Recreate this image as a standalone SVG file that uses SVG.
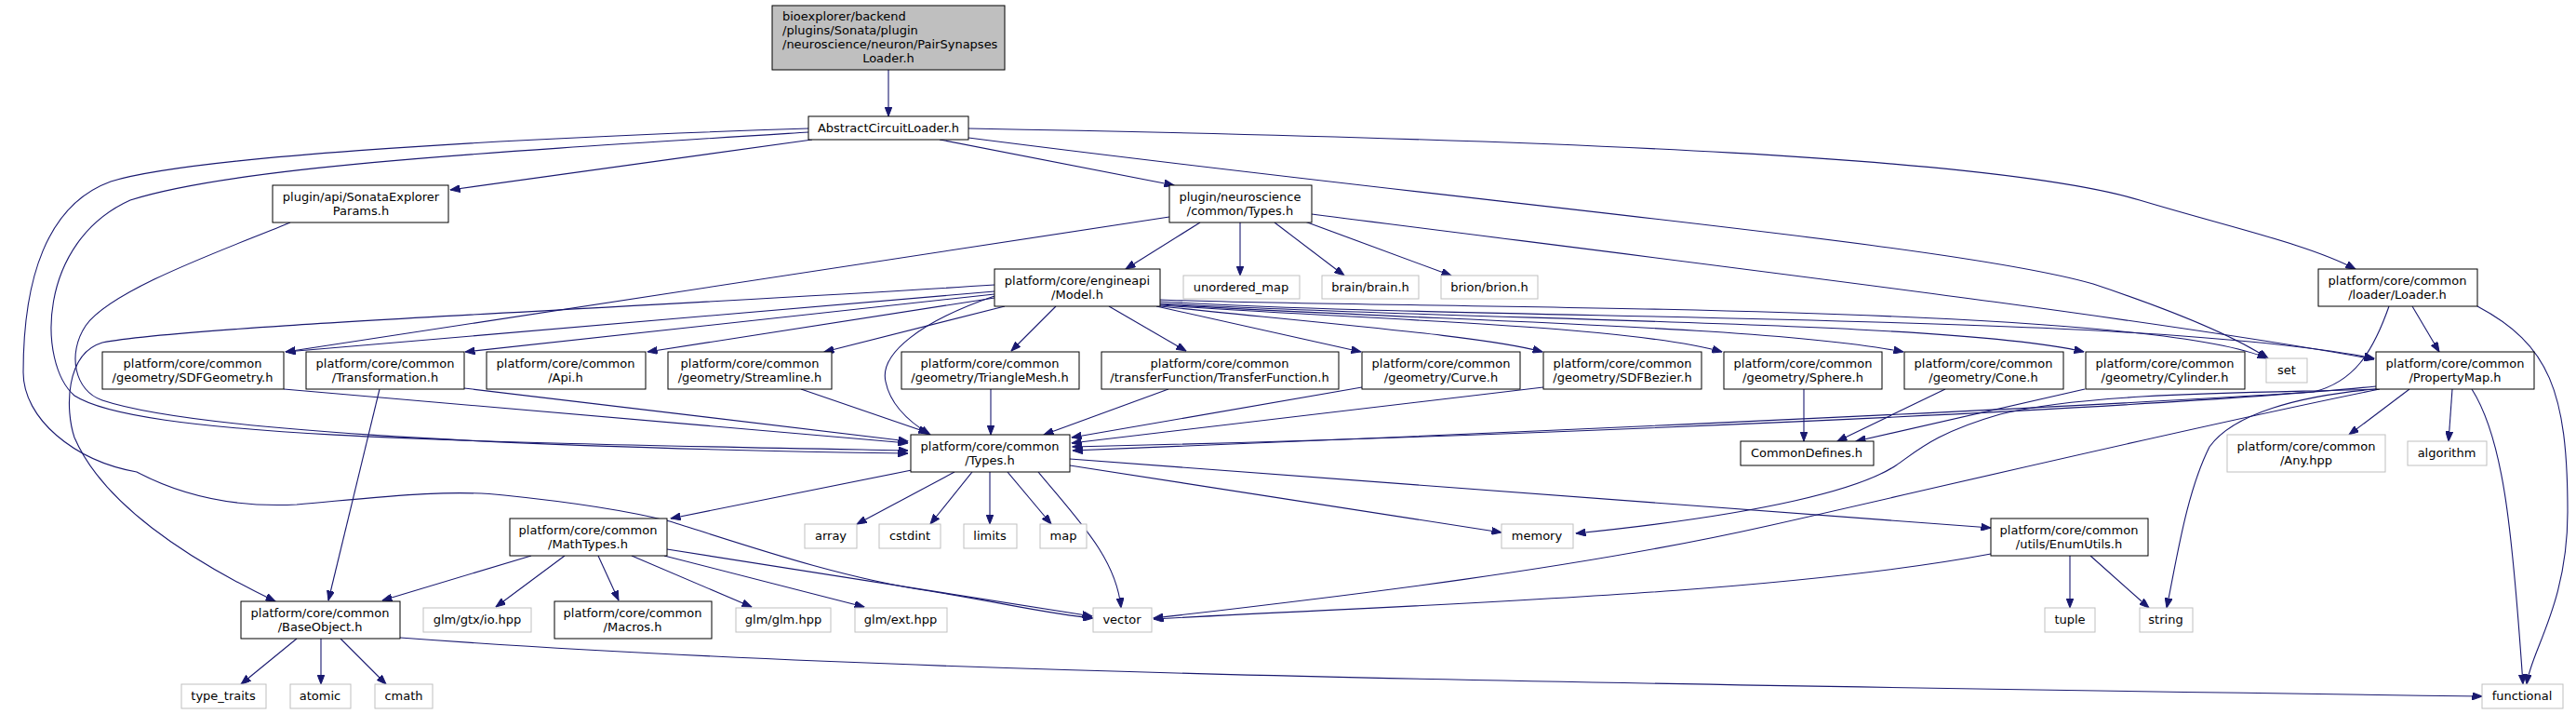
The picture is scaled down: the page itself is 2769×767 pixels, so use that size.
<svg xmlns="http://www.w3.org/2000/svg" width="2769" height="767" viewBox="0 0 2769 767">
<style>
rect{fill:#fff;stroke:#000;stroke-width:1}
.g rect{stroke:#bfbfbf}
.r rect{fill:#bfbfbf}
text{font-family:"DejaVu Sans","Liberation Sans",sans-serif;font-size:13px;fill:#000;text-anchor:middle}
.e path{fill:none;stroke:#191970;stroke-width:1.1;marker-end:url(#a)}
</style>
<defs>
<marker id="a" markerUnits="userSpaceOnUse" markerWidth="11" markerHeight="8" refX="10.5" refY="4" orient="auto"><path d="M0,0 L10.5,4 L0,8 z" fill="#191970" stroke="#191970" stroke-width="1"/></marker>
</defs>
<rect x="0" y="0" width="2769" height="767" style="fill:#fff;stroke:none"/>
<g class="e">
<path d="M955,75 L955,125"/>
<path d="M873,150 L484,204"/>
<path d="M1010,150 L1262,199"/>
<path d="M1041,138 C1700,150 2150,170 2300,215 C2400,245 2480,262 2532,289"/>
<path d="M1041,148 C1600,220 2100,262 2250,305 C2340,335 2400,360 2438,385"/>
<path d="M869,142 C500,165 250,180 140,215 C40,260 40,390 80,425 C150,470 500,475 976,484"/>
<path d="M869,138 C500,150 200,170 119,195 C50,220 25,300 25,400 C25,450 80,495 147,507 C200,535 260,545 319,542 C400,535 480,525 542,532 C620,540 680,550 720,560 C800,585 900,620 1000,635 C1080,648 1130,660 1175,664"/>
<path d="M312,239 C250,265 120,310 92,350 C72,380 80,420 110,430 C200,460 500,480 976,487"/>
<path d="M1290,239 L1210,289"/>
<path d="M1333,239 L1333,296"/>
<path d="M1370,239 L1445,296"/>
<path d="M1400,237 L1560,296"/>
<path d="M1257,233 L307,378"/>
<path d="M1410,230 C1800,280 2300,340 2552,386"/>
<path d="M1069,306 C700,330 200,350 110,368 C70,380 70,440 80,470 C110,540 200,600 296,646"/>
<path d="M1069,313 L307,378"/>
<path d="M1069,316 L500,378"/>
<path d="M1069,320 L696,378"/>
<path d="M1080,329 L886,378"/>
<path d="M1069,318 C990,345 945,380 952,410 C958,440 985,458 1000,467"/>
<path d="M1135,329 L1087,377"/>
<path d="M1192,329 L1275,377"/>
<path d="M1243,329 L1463,378"/>
<path d="M1247,329 C1450,350 1600,362 1658,378"/>
<path d="M1247,328 C1500,345 1750,350 1851,378"/>
<path d="M1247,327 C1550,345 1900,350 2046,378"/>
<path d="M1247,326 C1600,345 2100,345 2240,378"/>
<path d="M1247,324 C1600,345 2300,335 2552,385"/>
<path d="M1247,322 C1500,332 2300,325 2437,385"/>
<path d="M2593,329 L2622,378"/>
<path d="M2663,329 C2740,370 2760,420 2760,550 C2760,650 2720,700 2716,735"/>
<path d="M2568,329 C2550,380 2530,410 2487,421 C2200,440 1500,470 1153,484"/>
<path d="M2554,415 C2300,440 1600,470 1153,480"/>
<path d="M2556,418 C2450,422 2250,420 2150,445 C2080,465 2060,485 2038,500 C2000,525 1900,552 1694,573"/>
<path d="M2558,418 C2350,460 2100,520 1900,565 C1700,610 1450,640 1240,664"/>
<path d="M2590,418 L2525,467"/>
<path d="M2636,418 L2632,474"/>
<path d="M2554,418 C2470,425 2400,445 2375,480 C2350,530 2340,600 2329,653"/>
<path d="M2657,418 C2690,470 2700,560 2712,735"/>
<path d="M980,505 L721,557"/>
<path d="M1026,507 L921,563"/>
<path d="M1045,507 L1000,563"/>
<path d="M1064,507 L1064,563"/>
<path d="M1083,507 L1130,563"/>
<path d="M1116,507 C1160,560 1200,600 1205,653"/>
<path d="M1150,500 L1614,572"/>
<path d="M1150,493 L2140,567"/>
<path d="M571,597 L411,645"/>
<path d="M607,597 L533,652"/>
<path d="M643,597 L665,645"/>
<path d="M679,597 L808,652"/>
<path d="M714,597 L929,652"/>
<path d="M717,590 L1174,662"/>
<path d="M319,686 L259,735"/>
<path d="M345,686 L345,735"/>
<path d="M366,686 L415,735"/>
<path d="M430,685 C900,720 1500,732 2668,748"/>
<path d="M408,418 L353,645"/>
<path d="M305,418 L976,476"/>
<path d="M499,417 L976,474"/>
<path d="M861,418 L998,465"/>
<path d="M1065,418 L1065,467"/>
<path d="M1256,418 L1122,467"/>
<path d="M1464,416 L1152,470"/>
<path d="M1659,416 L1152,476"/>
<path d="M1939,418 L1939,474"/>
<path d="M2091,418 L1975,474"/>
<path d="M2241,418 L1995,474"/>
<path d="M2225,597 L2225,653"/>
<path d="M2247,597 L2310,653"/>
<path d="M2140,595 C1900,640 1500,650 1240,665"/>
</g>
<g id="root" class="r"><rect x="830" y="6" width="250" height="69"/>
<text x="841" y="22" style="text-anchor:start">bioexplorer/backend</text>
<text x="841" y="37" style="text-anchor:start">/plugins/Sonata/plugin</text>
<text x="841" y="52" style="text-anchor:start">/neuroscience/neuron/PairSynapses</text>
<text x="955" y="67">Loader.h</text></g>
<g id="acl"><rect x="869" y="125" width="172" height="25"/><text x="955" y="142">AbstractCircuitLoader.h</text></g>
<g id="params"><rect x="293" y="199" width="189" height="40"/><text x="388" y="216">plugin/api/SonataExplorer</text><text x="388" y="231">Params.h</text></g>
<g id="ntypes"><rect x="1257" y="199" width="153" height="40"/><text x="1333" y="216">plugin/neuroscience</text><text x="1333" y="231">/common/Types.h</text></g>
<g id="model"><rect x="1069" y="289" width="178" height="40"/><text x="1158" y="306">platform/core/engineapi</text><text x="1158" y="321">/Model.h</text></g>
<g id="umap" class="g"><rect x="1272" y="296" width="125" height="25"/><text x="1334" y="313">unordered_map</text></g>
<g id="brain" class="g"><rect x="1421" y="296" width="104" height="25"/><text x="1473" y="313">brain/brain.h</text></g>
<g id="brion" class="g"><rect x="1549" y="296" width="104" height="25"/><text x="1601" y="313">brion/brion.h</text></g>
<g id="loader"><rect x="2492" y="289" width="171" height="40"/><text x="2577" y="306">platform/core/common</text><text x="2577" y="321">/loader/Loader.h</text></g>
<g id="sdfgeom"><rect x="110" y="378" width="195" height="40"/><text x="207" y="395">platform/core/common</text><text x="207" y="410">/geometry/SDFGeometry.h</text></g>
<g id="transf"><rect x="329" y="378" width="170" height="40"/><text x="414" y="395">platform/core/common</text><text x="414" y="410">/Transformation.h</text></g>
<g id="api"><rect x="523" y="378" width="171" height="40"/><text x="608" y="395">platform/core/common</text><text x="608" y="410">/Api.h</text></g>
<g id="stream"><rect x="718" y="378" width="176" height="40"/><text x="806" y="395">platform/core/common</text><text x="806" y="410">/geometry/Streamline.h</text></g>
<g id="trimesh"><rect x="969" y="378" width="191" height="40"/><text x="1064" y="395">platform/core/common</text><text x="1064" y="410">/geometry/TriangleMesh.h</text></g>
<g id="tfunc"><rect x="1184" y="378" width="255" height="40"/><text x="1311" y="395">platform/core/common</text><text x="1311" y="410">/transferFunction/TransferFunction.h</text></g>
<g id="curve"><rect x="1464" y="378" width="170" height="40"/><text x="1549" y="395">platform/core/common</text><text x="1549" y="410">/geometry/Curve.h</text></g>
<g id="sdfbez"><rect x="1659" y="378" width="170" height="40"/><text x="1744" y="395">platform/core/common</text><text x="1744" y="410">/geometry/SDFBezier.h</text></g>
<g id="sphere"><rect x="1853" y="378" width="170" height="40"/><text x="1938" y="395">platform/core/common</text><text x="1938" y="410">/geometry/Sphere.h</text></g>
<g id="cone"><rect x="2047" y="378" width="171" height="40"/><text x="2132" y="395">platform/core/common</text><text x="2132" y="410">/geometry/Cone.h</text></g>
<g id="cyl"><rect x="2242" y="378" width="171" height="40"/><text x="2327" y="395">platform/core/common</text><text x="2327" y="410">/geometry/Cylinder.h</text></g>
<g id="set" class="g"><rect x="2436" y="385" width="44" height="26"/><text x="2458" y="402">set</text></g>
<g id="propmap"><rect x="2554" y="378" width="170" height="40"/><text x="2639" y="395">platform/core/common</text><text x="2639" y="410">/PropertyMap.h</text></g>
<g id="ctypes"><rect x="979" y="467" width="171" height="40"/><text x="1064" y="484">platform/core/common</text><text x="1064" y="499">/Types.h</text></g>
<g id="cdefs"><rect x="1871" y="474" width="143" height="26"/><text x="1942" y="491">CommonDefines.h</text></g>
<g id="any" class="g"><rect x="2394" y="467" width="170" height="40"/><text x="2479" y="484">platform/core/common</text><text x="2479" y="499">/Any.hpp</text></g>
<g id="algo" class="g"><rect x="2588" y="474" width="85" height="26"/><text x="2630" y="491">algorithm</text></g>
<g id="mtypes"><rect x="548" y="557" width="169" height="40"/><text x="632" y="574">platform/core/common</text><text x="632" y="589">/MathTypes.h</text></g>
<g id="array" class="g"><rect x="865" y="563" width="56" height="26"/><text x="893" y="580">array</text></g>
<g id="cstdint" class="g"><rect x="945" y="563" width="66" height="26"/><text x="978" y="580">cstdint</text></g>
<g id="limits" class="g"><rect x="1036" y="563" width="57" height="26"/><text x="1064" y="580">limits</text></g>
<g id="map" class="g"><rect x="1118" y="563" width="50" height="26"/><text x="1143" y="580">map</text></g>
<g id="memory" class="g"><rect x="1614" y="563" width="77" height="26"/><text x="1652" y="580">memory</text></g>
<g id="enumutils"><rect x="2140" y="557" width="169" height="40"/><text x="2224" y="574">platform/core/common</text><text x="2224" y="589">/utils/EnumUtils.h</text></g>
<g id="baseobj"><rect x="259" y="646" width="171" height="40"/><text x="344" y="663">platform/core/common</text><text x="344" y="678">/BaseObject.h</text></g>
<g id="gtxio" class="g"><rect x="455" y="653" width="116" height="26"/><text x="513" y="670">glm/gtx/io.hpp</text></g>
<g id="macros"><rect x="596" y="646" width="169" height="40"/><text x="680" y="663">platform/core/common</text><text x="680" y="678">/Macros.h</text></g>
<g id="glmglm" class="g"><rect x="791" y="653" width="102" height="26"/><text x="842" y="670">glm/glm.hpp</text></g>
<g id="glmext" class="g"><rect x="919" y="653" width="99" height="26"/><text x="968" y="670">glm/ext.hpp</text></g>
<g id="vector" class="g"><rect x="1175" y="653" width="63" height="26"/><text x="1206" y="670">vector</text></g>
<g id="tuple" class="g"><rect x="2198" y="653" width="54" height="26"/><text x="2225" y="670">tuple</text></g>
<g id="string" class="g"><rect x="2300" y="653" width="57" height="26"/><text x="2328" y="670">string</text></g>
<g id="typetraits" class="g"><rect x="195" y="735" width="91" height="26"/><text x="240" y="752">type_traits</text></g>
<g id="atomic" class="g"><rect x="312" y="735" width="65" height="26"/><text x="344" y="752">atomic</text></g>
<g id="cmath" class="g"><rect x="403" y="735" width="62" height="26"/><text x="434" y="752">cmath</text></g>
<g id="functional" class="g"><rect x="2668" y="735" width="87" height="26"/><text x="2711" y="752">functional</text></g>
</svg>
